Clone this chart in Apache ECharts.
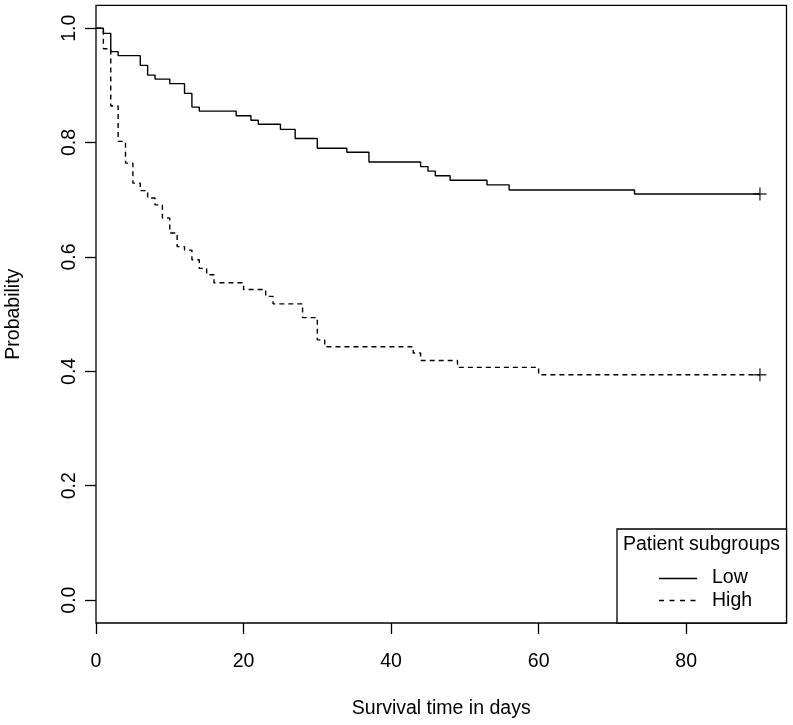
<!DOCTYPE html>
<html>
<head>
<meta charset="utf-8">
<script src="https://cdn.jsdelivr.net/npm/echarts@6/dist/echarts.min.js"></script>
<style>
html,body{margin:0;padding:0;background:#fff;}
#chart{width:793px;height:725px;}
</style>
</head>
<body>
<div id="chart"></div>
<script>
// Kaplan-Meier step data (time in days, survival probability)
const lowTimes = [0, 1, 2, 3, 6, 7, 8, 10, 12, 13, 14, 19, 21, 22, 25, 27, 30, 34, 37, 44, 45, 46, 48, 53, 56, 73, 90];
const lowSurv  = [1.0, 0.991, 0.959, 0.952, 0.935, 0.918, 0.911, 0.903, 0.886, 0.862, 0.855, 0.847, 0.839, 0.832, 0.823, 0.807, 0.790, 0.783, 0.766, 0.758, 0.750, 0.742, 0.734, 0.726, 0.717, 0.710, 0.710];
const highTimes = [0, 1, 2, 3, 4, 5, 6, 7, 8, 9, 10, 11, 12, 13, 14, 15, 16, 20, 23, 24, 28, 30, 31, 43, 44, 49, 60, 90];
const highSurv  = [1.0, 0.964, 0.864, 0.802, 0.764, 0.729, 0.716, 0.703, 0.691, 0.668, 0.642, 0.618, 0.612, 0.595, 0.580, 0.569, 0.555, 0.543, 0.531, 0.518, 0.494, 0.455, 0.443, 0.432, 0.419, 0.407, 0.394, 0.394];
const censorLow  = [[90, 0.710]];
const censorHigh = [[90, 0.394]];
const xTicks = [0, 20, 40, 60, 80];
const yTicks = [0.0, 0.2, 0.4, 0.6, 0.8, 1.0];
const seriesNames = ['Low', 'High'];
const legendTitle = 'Patient subgroups';
const xTitle = 'Survival time in days';
const yTitle = 'Probability';

const FONT = 'Liberation Sans, Arial, Helvetica, sans-serif';
const FS = 19.5;
const chart = echarts.init(document.getElementById('chart'), null, {renderer: 'canvas'});

const plusPath = 'path://M5,0L5,10M0,5L10,5';

const option = {
  animation: false,
  backgroundColor: '#fff',
  grid: {
    left: 96, right: 6.5, top: 5.3, bottom: 102,
    outerBoundsMode: 'none', containLabel: false,
    show: true, borderColor: '#000', borderWidth: 1.3, backgroundColor: 'transparent'
  },
  xAxis: {
    type: 'value', min: 0, max: 93.6,
    name: xTitle, nameLocation: 'middle', nameGap: 76,
    nameTextStyle: {fontFamily: FONT, fontSize: FS, color: '#000'},
    axisLine: {show: false, onZero: false},
    splitLine: {show: false},
    axisTick: {show: true, customValues: xTicks, length: 11, lineStyle: {color: '#000', width: 1.3}},
    axisLabel: {customValues: xTicks, margin: 29, fontFamily: FONT, fontSize: FS, color: '#000'}
  },
  yAxis: {
    type: 'value', min: -0.04, max: 1.04,
    name: yTitle, nameLocation: 'middle', nameGap: 72,
    nameTextStyle: {fontFamily: FONT, fontSize: FS, color: '#000'},
    axisLine: {show: false, onZero: false},
    splitLine: {show: false},
    axisTick: {show: true, customValues: yTicks, length: 11, lineStyle: {color: '#000', width: 1.3}},
    axisLabel: {customValues: yTicks, rotate: 90, margin: 16, fontFamily: FONT, fontSize: FS, color: '#000',
      formatter: v => Number(v).toFixed(1)}
  },
  series: [
    {
      name: seriesNames[0], type: 'line', step: 'end', showSymbol: false, symbol: 'none',
      data: lowTimes.map((t, i) => [t, lowSurv[i]]),
      lineStyle: {color: '#000', width: 1.4, type: 'solid'}
    },
    {
      name: seriesNames[1], type: 'line', step: 'end', showSymbol: false, symbol: 'none',
      data: highTimes.map((t, i) => [t, highSurv[i]]),
      lineStyle: {color: '#000', width: 1.4, type: [5, 4]}
    },
    {
      type: 'scatter', data: censorLow, symbol: plusPath, symbolSize: 13,
      itemStyle: {color: 'none', borderColor: '#000', borderWidth: 1.4}, silent: true
    },
    {
      type: 'scatter', data: censorHigh, symbol: plusPath, symbolSize: 13,
      itemStyle: {color: 'none', borderColor: '#000', borderWidth: 1.4}, silent: true
    }
  ],
  graphic: [
    {type: 'rect', shape: {x: 617, y: 529, width: 169.5, height: 94},
     style: {fill: '#fff', stroke: '#000', lineWidth: 1.3}, z: 10},
    {type: 'text', x: 701.5, y: 544.5, z: 11,
     style: {text: legendTitle, font: FS + 'px ' + FONT, fill: '#000', align: 'center', verticalAlign: 'middle'}},
    {type: 'line', shape: {x1: 659, y1: 578.5, x2: 697, y2: 578.5}, z: 11,
     style: {stroke: '#000', lineWidth: 1.4}},
    {type: 'line', shape: {x1: 659, y1: 600.5, x2: 697, y2: 600.5}, z: 11,
     style: {stroke: '#000', lineWidth: 1.4, lineDash: [5, 5.5]}},
    {type: 'text', x: 712, y: 577.5, z: 11,
     style: {text: seriesNames[0], font: FS + 'px ' + FONT, fill: '#000', align: 'left', verticalAlign: 'middle'}},
    {type: 'text', x: 712, y: 600.5, z: 11,
     style: {text: seriesNames[1], font: FS + 'px ' + FONT, fill: '#000', align: 'left', verticalAlign: 'middle'}}
  ]
};
chart.setOption(option);
</script>
</body>
</html>
